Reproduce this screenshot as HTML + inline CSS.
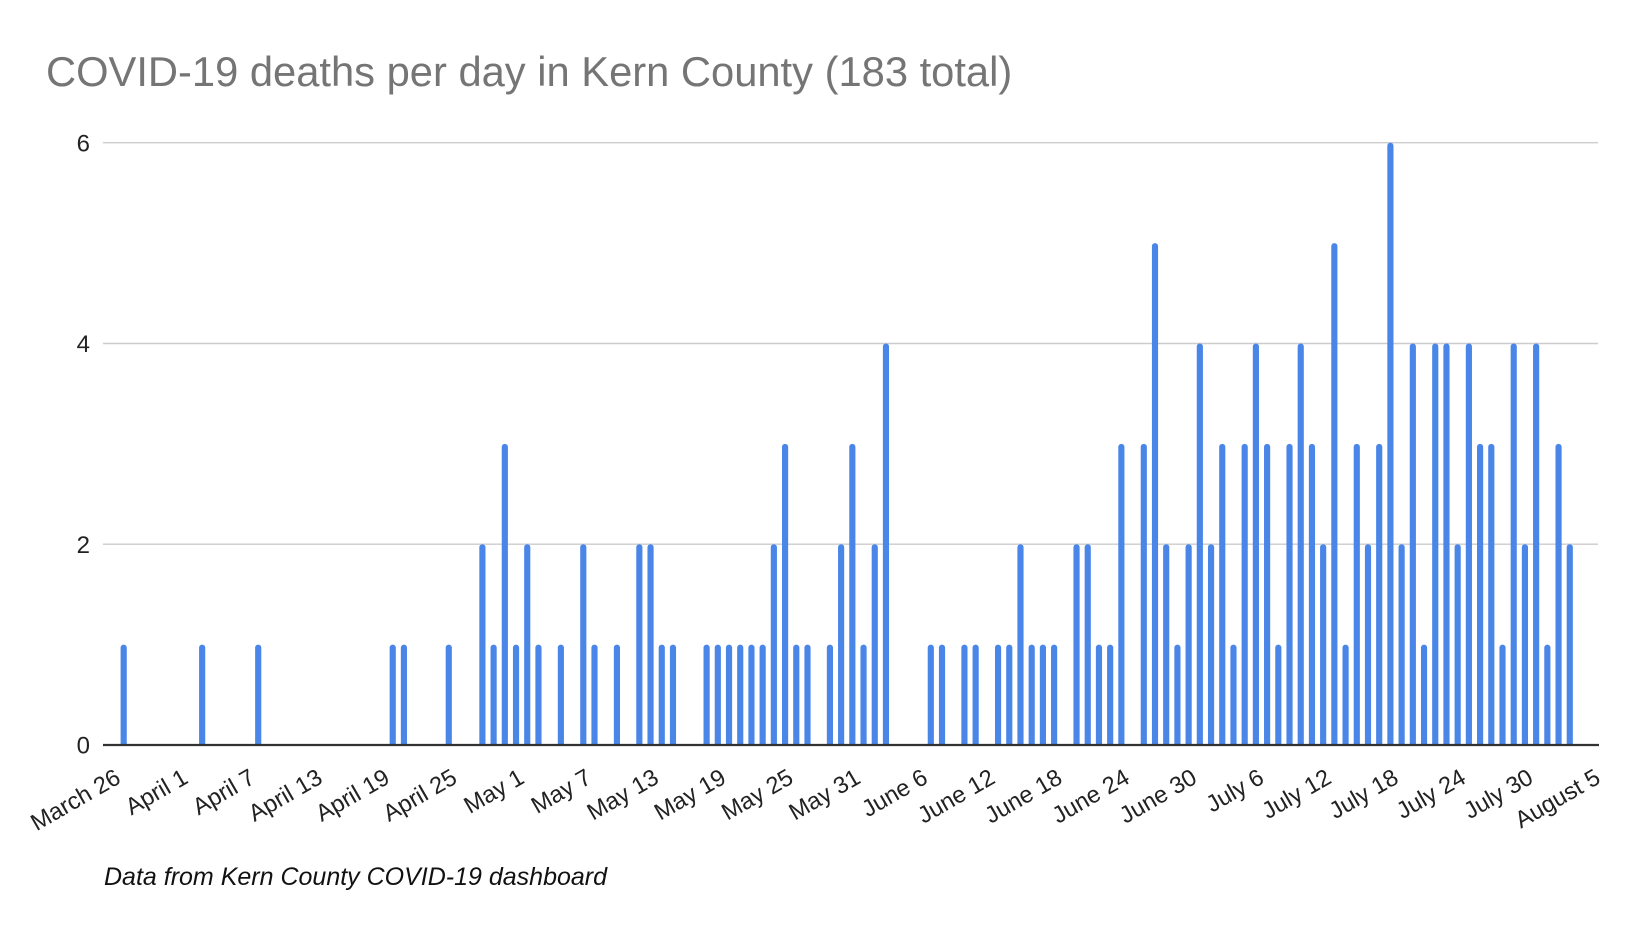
<!DOCTYPE html>
<html>
<head>
<meta charset="utf-8">
<style>
  html, body { margin: 0; padding: 0; background: #ffffff; }
  body { width: 1646px; height: 938px; overflow: hidden; }
  svg { display: block; }
  text { font-family: "Liberation Sans", Arial, sans-serif; }
</style>
</head>
<body>
<svg width="1646" height="938" viewBox="0 0 1646 938" xmlns="http://www.w3.org/2000/svg">
  <defs>
    <clipPath id="plotclip">
      <rect x="0" y="0" width="1646" height="745"/>
    </clipPath>
  </defs>
  <rect x="0" y="0" width="1646" height="938" fill="#ffffff"/>

  <text x="46" y="86" font-size="41.7" fill="#757575">COVID-19 deaths per day in Kern County (183 total)</text>

  <g stroke="#cccccc" stroke-width="1.4">
    <line x1="103" y1="142.7" x2="1598" y2="142.7"/>
    <line x1="103" y1="343.5" x2="1598" y2="343.5"/>
    <line x1="103" y1="544.2" x2="1598" y2="544.2"/>
  </g>

  <g font-size="24" fill="#222" text-anchor="end">
    <text x="90" y="151.3">6</text>
    <text x="90" y="352.1">4</text>
    <text x="90" y="552.8">2</text>
    <text x="90" y="753.6">0</text>
  </g>

  <g clip-path="url(#plotclip)">
  <g transform="translate(120.6 745) scale(11.21 -100.38)" fill="#4a86e8">
    <rect x="0" y="-0.1" width="0.55" height="1.1" rx="0.27" ry="0.03"/>
    <rect x="7" y="-0.1" width="0.55" height="1.1" rx="0.27" ry="0.03"/>
    <rect x="12" y="-0.1" width="0.55" height="1.1" rx="0.27" ry="0.03"/>
    <rect x="24" y="-0.1" width="0.55" height="1.1" rx="0.27" ry="0.03"/>
    <rect x="25" y="-0.1" width="0.55" height="1.1" rx="0.27" ry="0.03"/>
    <rect x="29" y="-0.1" width="0.55" height="1.1" rx="0.27" ry="0.03"/>
    <rect x="32" y="-0.1" width="0.55" height="2.1" rx="0.27" ry="0.03"/>
    <rect x="33" y="-0.1" width="0.55" height="1.1" rx="0.27" ry="0.03"/>
    <rect x="34" y="-0.1" width="0.55" height="3.1" rx="0.27" ry="0.03"/>
    <rect x="35" y="-0.1" width="0.55" height="1.1" rx="0.27" ry="0.03"/>
    <rect x="36" y="-0.1" width="0.55" height="2.1" rx="0.27" ry="0.03"/>
    <rect x="37" y="-0.1" width="0.55" height="1.1" rx="0.27" ry="0.03"/>
    <rect x="39" y="-0.1" width="0.55" height="1.1" rx="0.27" ry="0.03"/>
    <rect x="41" y="-0.1" width="0.55" height="2.1" rx="0.27" ry="0.03"/>
    <rect x="42" y="-0.1" width="0.55" height="1.1" rx="0.27" ry="0.03"/>
    <rect x="44" y="-0.1" width="0.55" height="1.1" rx="0.27" ry="0.03"/>
    <rect x="46" y="-0.1" width="0.55" height="2.1" rx="0.27" ry="0.03"/>
    <rect x="47" y="-0.1" width="0.55" height="2.1" rx="0.27" ry="0.03"/>
    <rect x="48" y="-0.1" width="0.55" height="1.1" rx="0.27" ry="0.03"/>
    <rect x="49" y="-0.1" width="0.55" height="1.1" rx="0.27" ry="0.03"/>
    <rect x="52" y="-0.1" width="0.55" height="1.1" rx="0.27" ry="0.03"/>
    <rect x="53" y="-0.1" width="0.55" height="1.1" rx="0.27" ry="0.03"/>
    <rect x="54" y="-0.1" width="0.55" height="1.1" rx="0.27" ry="0.03"/>
    <rect x="55" y="-0.1" width="0.55" height="1.1" rx="0.27" ry="0.03"/>
    <rect x="56" y="-0.1" width="0.55" height="1.1" rx="0.27" ry="0.03"/>
    <rect x="57" y="-0.1" width="0.55" height="1.1" rx="0.27" ry="0.03"/>
    <rect x="58" y="-0.1" width="0.55" height="2.1" rx="0.27" ry="0.03"/>
    <rect x="59" y="-0.1" width="0.55" height="3.1" rx="0.27" ry="0.03"/>
    <rect x="60" y="-0.1" width="0.55" height="1.1" rx="0.27" ry="0.03"/>
    <rect x="61" y="-0.1" width="0.55" height="1.1" rx="0.27" ry="0.03"/>
    <rect x="63" y="-0.1" width="0.55" height="1.1" rx="0.27" ry="0.03"/>
    <rect x="64" y="-0.1" width="0.55" height="2.1" rx="0.27" ry="0.03"/>
    <rect x="65" y="-0.1" width="0.55" height="3.1" rx="0.27" ry="0.03"/>
    <rect x="66" y="-0.1" width="0.55" height="1.1" rx="0.27" ry="0.03"/>
    <rect x="67" y="-0.1" width="0.55" height="2.1" rx="0.27" ry="0.03"/>
    <rect x="68" y="-0.1" width="0.55" height="4.1" rx="0.27" ry="0.03"/>
    <rect x="72" y="-0.1" width="0.55" height="1.1" rx="0.27" ry="0.03"/>
    <rect x="73" y="-0.1" width="0.55" height="1.1" rx="0.27" ry="0.03"/>
    <rect x="75" y="-0.1" width="0.55" height="1.1" rx="0.27" ry="0.03"/>
    <rect x="76" y="-0.1" width="0.55" height="1.1" rx="0.27" ry="0.03"/>
    <rect x="78" y="-0.1" width="0.55" height="1.1" rx="0.27" ry="0.03"/>
    <rect x="79" y="-0.1" width="0.55" height="1.1" rx="0.27" ry="0.03"/>
    <rect x="80" y="-0.1" width="0.55" height="2.1" rx="0.27" ry="0.03"/>
    <rect x="81" y="-0.1" width="0.55" height="1.1" rx="0.27" ry="0.03"/>
    <rect x="82" y="-0.1" width="0.55" height="1.1" rx="0.27" ry="0.03"/>
    <rect x="83" y="-0.1" width="0.55" height="1.1" rx="0.27" ry="0.03"/>
    <rect x="85" y="-0.1" width="0.55" height="2.1" rx="0.27" ry="0.03"/>
    <rect x="86" y="-0.1" width="0.55" height="2.1" rx="0.27" ry="0.03"/>
    <rect x="87" y="-0.1" width="0.55" height="1.1" rx="0.27" ry="0.03"/>
    <rect x="88" y="-0.1" width="0.55" height="1.1" rx="0.27" ry="0.03"/>
    <rect x="89" y="-0.1" width="0.55" height="3.1" rx="0.27" ry="0.03"/>
    <rect x="91" y="-0.1" width="0.55" height="3.1" rx="0.27" ry="0.03"/>
    <rect x="92" y="-0.1" width="0.55" height="5.1" rx="0.27" ry="0.03"/>
    <rect x="93" y="-0.1" width="0.55" height="2.1" rx="0.27" ry="0.03"/>
    <rect x="94" y="-0.1" width="0.55" height="1.1" rx="0.27" ry="0.03"/>
    <rect x="95" y="-0.1" width="0.55" height="2.1" rx="0.27" ry="0.03"/>
    <rect x="96" y="-0.1" width="0.55" height="4.1" rx="0.27" ry="0.03"/>
    <rect x="97" y="-0.1" width="0.55" height="2.1" rx="0.27" ry="0.03"/>
    <rect x="98" y="-0.1" width="0.55" height="3.1" rx="0.27" ry="0.03"/>
    <rect x="99" y="-0.1" width="0.55" height="1.1" rx="0.27" ry="0.03"/>
    <rect x="100" y="-0.1" width="0.55" height="3.1" rx="0.27" ry="0.03"/>
    <rect x="101" y="-0.1" width="0.55" height="4.1" rx="0.27" ry="0.03"/>
    <rect x="102" y="-0.1" width="0.55" height="3.1" rx="0.27" ry="0.03"/>
    <rect x="103" y="-0.1" width="0.55" height="1.1" rx="0.27" ry="0.03"/>
    <rect x="104" y="-0.1" width="0.55" height="3.1" rx="0.27" ry="0.03"/>
    <rect x="105" y="-0.1" width="0.55" height="4.1" rx="0.27" ry="0.03"/>
    <rect x="106" y="-0.1" width="0.55" height="3.1" rx="0.27" ry="0.03"/>
    <rect x="107" y="-0.1" width="0.55" height="2.1" rx="0.27" ry="0.03"/>
    <rect x="108" y="-0.1" width="0.55" height="5.1" rx="0.27" ry="0.03"/>
    <rect x="109" y="-0.1" width="0.55" height="1.1" rx="0.27" ry="0.03"/>
    <rect x="110" y="-0.1" width="0.55" height="3.1" rx="0.27" ry="0.03"/>
    <rect x="111" y="-0.1" width="0.55" height="2.1" rx="0.27" ry="0.03"/>
    <rect x="112" y="-0.1" width="0.55" height="3.1" rx="0.27" ry="0.03"/>
    <rect x="113" y="-0.1" width="0.55" height="6.1" rx="0.27" ry="0.03"/>
    <rect x="114" y="-0.1" width="0.55" height="2.1" rx="0.27" ry="0.03"/>
    <rect x="115" y="-0.1" width="0.55" height="4.1" rx="0.27" ry="0.03"/>
    <rect x="116" y="-0.1" width="0.55" height="1.1" rx="0.27" ry="0.03"/>
    <rect x="117" y="-0.1" width="0.55" height="4.1" rx="0.27" ry="0.03"/>
    <rect x="118" y="-0.1" width="0.55" height="4.1" rx="0.27" ry="0.03"/>
    <rect x="119" y="-0.1" width="0.55" height="2.1" rx="0.27" ry="0.03"/>
    <rect x="120" y="-0.1" width="0.55" height="4.1" rx="0.27" ry="0.03"/>
    <rect x="121" y="-0.1" width="0.55" height="3.1" rx="0.27" ry="0.03"/>
    <rect x="122" y="-0.1" width="0.55" height="3.1" rx="0.27" ry="0.03"/>
    <rect x="123" y="-0.1" width="0.55" height="1.1" rx="0.27" ry="0.03"/>
    <rect x="124" y="-0.1" width="0.55" height="4.1" rx="0.27" ry="0.03"/>
    <rect x="125" y="-0.1" width="0.55" height="2.1" rx="0.27" ry="0.03"/>
    <rect x="126" y="-0.1" width="0.55" height="4.1" rx="0.27" ry="0.03"/>
    <rect x="127" y="-0.1" width="0.55" height="1.1" rx="0.27" ry="0.03"/>
    <rect x="128" y="-0.1" width="0.55" height="3.1" rx="0.27" ry="0.03"/>
    <rect x="129" y="-0.1" width="0.55" height="2.1" rx="0.27" ry="0.03"/>
  </g>
  </g>

  <line x1="103" y1="745" x2="1599" y2="745" stroke="#333333" stroke-width="2.2"/>

  <g font-size="23.7" fill="#222" text-anchor="end">
    <text transform="translate(122.2 782) rotate(-30)">March 26</text>
    <text transform="translate(189.5 782) rotate(-30)">April 1</text>
    <text transform="translate(256.7 782) rotate(-30)">April 7</text>
    <text transform="translate(324.0 782) rotate(-30)">April 13</text>
    <text transform="translate(391.2 782) rotate(-30)">April 19</text>
    <text transform="translate(458.5 782) rotate(-30)">April 25</text>
    <text transform="translate(525.8 782) rotate(-30)">May 1</text>
    <text transform="translate(593.0 782) rotate(-30)">May 7</text>
    <text transform="translate(660.3 782) rotate(-30)">May 13</text>
    <text transform="translate(727.5 782) rotate(-30)">May 19</text>
    <text transform="translate(794.8 782) rotate(-30)">May 25</text>
    <text transform="translate(862.1 782) rotate(-30)">May 31</text>
    <text transform="translate(929.3 782) rotate(-30)">June 6</text>
    <text transform="translate(996.6 782) rotate(-30)">June 12</text>
    <text transform="translate(1063.8 782) rotate(-30)">June 18</text>
    <text transform="translate(1131.1 782) rotate(-30)">June 24</text>
    <text transform="translate(1198.4 782) rotate(-30)">June 30</text>
    <text transform="translate(1265.6 782) rotate(-30)">July 6</text>
    <text transform="translate(1332.9 782) rotate(-30)">July 12</text>
    <text transform="translate(1400.1 782) rotate(-30)">July 18</text>
    <text transform="translate(1467.4 782) rotate(-30)">July 24</text>
    <text transform="translate(1534.7 782) rotate(-30)">July 30</text>
    <text transform="translate(1601.9 782) rotate(-30)">August 5</text>
  </g>

  <text x="104" y="885" font-size="25" font-style="italic" fill="#111">Data from Kern County COVID-19 dashboard</text>
</svg>
</body>
</html>
